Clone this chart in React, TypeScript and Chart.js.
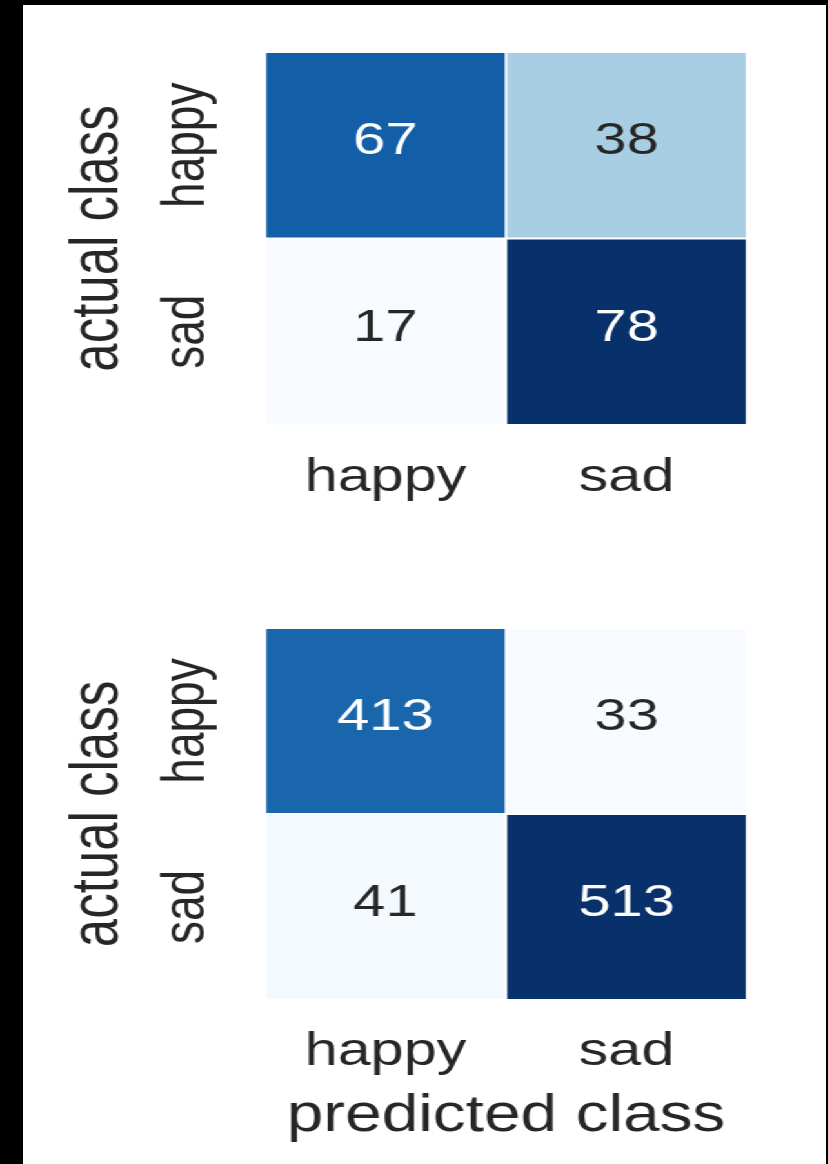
import React, { useEffect, useRef } from 'react';
import { Chart, registerables } from 'chart.js';

Chart.register(...registerables);

// ---- data ----
const predictedLabels = ['happy', 'sad'];
const actualLabels = ['happy', 'sad'];
const topHappyRow = [67, 38];
const topSadRow = [17, 78];
const bottomHappyRow = [413, 33];
const bottomSadRow = [41, 513];
const yAxisTitle = 'actual class';
const xAxisTitle = 'predicted class';

// ---- styling ----
const FONT = '"Liberation Sans", Arial, Helvetica, sans-serif';
const TEXT = '#262626';
const STRETCH = 1.29;
const PAGE_W = 642;
const PLOT_LEFT = 205.4;
const PLOT_RIGHT = 579.1;
const TICK_SIZE = 46;
const TITLE_SIZE = 51;
const ANNOT_SIZE = 45;

const BLUES: number[][] = [
  [247, 251, 255], [222, 235, 247], [198, 219, 239], [158, 202, 225],
  [107, 174, 214], [66, 146, 198], [33, 113, 181], [8, 81, 156], [8, 48, 107],
];

function bluesRGB(t: number): number[] {
  const c = Math.max(0, Math.min(1, t)) * (BLUES.length - 1);
  const i = Math.min(Math.floor(c), BLUES.length - 2);
  const f = c - i;
  return BLUES[i].map((v, k) => Math.round(v + (BLUES[i + 1][k] - v) * f));
}

function luminance(rgb: number[]): number {
  const lin = rgb.map((v) => {
    const s = v / 255;
    return s <= 0.03928 ? s / 12.92 : Math.pow((s + 0.055) / 1.055, 2.4);
  });
  return 0.2126 * lin[0] + 0.7152 * lin[1] + 0.0722 * lin[2];
}

const annotPlugin = {
  id: 'annot',
  afterDatasetsDraw(chart: any) {
    const ctx = chart.ctx;
    ctx.save();
    ctx.font = `${ANNOT_SIZE}px ${FONT}`;
    ctx.textAlign = 'center';
    ctx.textBaseline = 'middle';
    chart.data.datasets.forEach((ds: any, i: number) => {
      const meta = chart.getDatasetMeta(i);
      meta.data.forEach((el: any, j: number) => {
        const p = el.getProps(['x', 'y', 'base'], true);
        const v = ds.values[j];
        const rgb = ds.rgb[j];
        ctx.fillStyle = luminance(rgb) < 0.408 ? '#ffffff' : TEXT;
        ctx.fillText(String(v), p.x, (p.y + p.base) / 2 - 3.5);
      });
    });
    ctx.restore();
  },
};

function makeConfig(rows: number[][], opts: { height: number; plotTop: number; plotBottom: number; xPad: number; showXTitle: boolean; titlePadBottom: number }) {
  const all = rows.flat();
  const vmin = Math.min(...all);
  const vmax = Math.max(...all);
  const datasets = rows.map((row, r) => {
    const rgb = row.map((v) => bluesRGB((v - vmin) / (vmax - vmin)));
    return {
      label: actualLabels[r],
      data: row.map(() => [r, r + 1]),
      values: row,
      rgb,
      backgroundColor: rgb.map((c) => `rgb(${c[0]},${c[1]},${c[2]})`),
      borderColor: '#ffffff',
      borderWidth: 1.3,
      borderSkipped: false,
      grouped: false,
      barPercentage: 1,
      categoryPercentage: 1,
    };
  });
  return {
    type: 'bar',
    data: { labels: predictedLabels, datasets },
    plugins: [annotPlugin],
    options: {
      responsive: false,
      animation: false,
      devicePixelRatio: 1,
      layout: { padding: { left: 0, right: PAGE_W - PLOT_RIGHT, top: opts.plotTop, bottom: 0 } },
      plugins: { legend: { display: false }, tooltip: { enabled: false } },
      scales: {
        x: {
          type: 'category',
          offset: true,
          grid: { display: false, drawTicks: false },
          border: { display: false },
          ticks: {
            font: { family: FONT, size: TICK_SIZE },
            color: TEXT,
            padding: opts.xPad,
            minRotation: 0,
            maxRotation: 0,
            autoSkip: false,
          },
          title: {
            display: opts.showXTitle,
            text: xAxisTitle,
            color: TEXT,
            font: { family: FONT, size: TITLE_SIZE },
            padding: { top: 0, bottom: opts.titlePadBottom },
          },
          afterFit: (a: any) => {
            a.height = opts.height - opts.plotBottom;
          },
        },
        y: {
          type: 'linear',
          min: 0,
          max: 2,
          reverse: true,
          grid: { display: false, drawTicks: false },
          border: { display: false },
          afterBuildTicks: (a: any) => {
            a.ticks = [{ value: 0.5 }, { value: 1.5 }];
          },
          ticks: {
            callback: (v: any) => actualLabels[Math.floor(Number(v))],
            font: { family: FONT, size: TICK_SIZE },
            color: TEXT,
            minRotation: 90,
            maxRotation: 90,
            crossAlign: 'center',
            padding: -2.7,
            autoSkip: false,
          },
          title: {
            display: true,
            text: yAxisTitle,
            color: TEXT,
            font: { family: FONT, size: TITLE_SIZE },
            padding: { top: 46.3, bottom: 0 },
          },
          afterFit: (a: any) => {
            a.width = PLOT_LEFT;
          },
        },
      },
    },
  };
}

function Heatmap(props: { rows: number[][]; top: number; height: number; plotTop: number; plotBottom: number; xPad: number; showXTitle: boolean; titlePadBottom: number }) {
  const ref = useRef<HTMLCanvasElement | null>(null);
  useEffect(() => {
    if (!ref.current) return;
    const chart = new Chart(ref.current, makeConfig(props.rows, props) as any);
    return () => chart.destroy();
  }, []);
  return (
    <canvas
      ref={ref}
      width={PAGE_W}
      height={props.height}
      style={{ position: 'absolute', left: 0, top: props.top, width: PAGE_W, height: props.height, display: 'block' }}
    />
  );
}

export default function App() {
  return (
    <div style={{ position: 'fixed', left: 0, top: 0, width: 828, height: 1164, background: '#000', overflow: 'hidden' }}>
      <div style={{ position: 'absolute', left: 23, top: 5, width: 803, height: 1159, background: '#fff' }} />
      <div
        style={{
          position: 'absolute',
          left: 0,
          top: 0,
          width: PAGE_W,
          height: 1164,
          transform: `scaleX(${STRETCH})`,
          transformOrigin: '0 0',
        }}
      >
        <Heatmap rows={[topHappyRow, topSadRow]} top={0} height={560} plotTop={52} plotBottom={425} xPad={25.4} showXTitle={false} titlePadBottom={0} />
        <Heatmap rows={[bottomHappyRow, bottomSadRow]} top={560} height={604} plotTop={68} plotBottom={440} xPad={24.4} showXTitle={true} titlePadBottom={16.1} />
      </div>
    </div>
  );
}
